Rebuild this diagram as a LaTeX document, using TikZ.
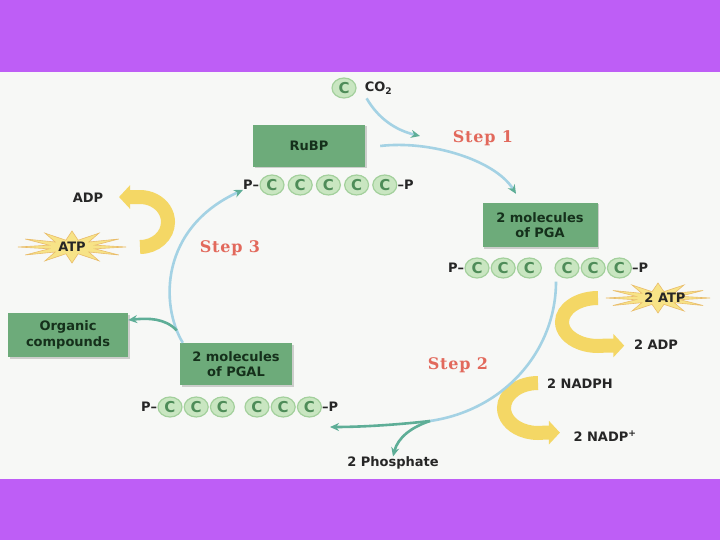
\documentclass[tikz,border=0pt]{standalone}
\usepackage{xcolor}
\usepackage{fontspec}
\setsansfont{DejaVu Sans}
\newfontfamily\stepfont{DejaVu Serif}[LetterSpace=5]
\usetikzlibrary{positioning,arrows.meta,shapes.geometric,shadows}

\definecolor{band}{HTML}{BE5EF6}
\definecolor{paper}{HTML}{F7F8F6}
\definecolor{boxgreen}{HTML}{6DAB7A}
\definecolor{boxtext}{HTML}{15301B}
\definecolor{ringgreen}{HTML}{A3D09C}
\definecolor{ringfill}{HTML}{C9E6C1}
\definecolor{cgreen}{HTML}{4E8C58}
\definecolor{cycleblue}{HTML}{A4D2E4}
\definecolor{cycleteal}{HTML}{5EAE97}
\definecolor{stepred}{HTML}{E2695C}
\definecolor{energy}{HTML}{F4D765}
\definecolor{burstfill}{HTML}{F7E387}
\definecolor{burstline}{HTML}{E9BC6A}

\begin{document}
\begin{tikzpicture}[
  x=1pt, y=-1pt,
  box/.style={rectangle, fill=boxgreen, text=boxtext, align=center, inner sep=2pt,
    font=\sffamily\bfseries\fontsize{13}{15.5}\selectfont,
    drop shadow={shadow xshift=1.5pt, shadow yshift=-1.5pt, opacity=.35}},
  cc/.style={ellipse, minimum width=24pt, minimum height=20pt, inner sep=0pt,
    fill=ringfill, draw=ringgreen, line width=1.2pt, text=cgreen,
    font=\sffamily\bfseries\fontsize{15}{15}\selectfont},
  lbl/.style={inner sep=0pt, text=black!85, font=\sffamily\bfseries\fontsize{13}{15}\selectfont},
  steplbl/.style={text=stepred, font=\stepfont\bfseries\fontsize{16}{18}\selectfont},
  cyc/.style={draw=cycleblue, line width=2.6pt, -{Stealth[length=9pt, width=8pt, color=cycleteal]}},
  cycg/.style={cyc, draw=cycleteal},
  nrg/.style={draw=energy, line width=14pt, -{Triangle[length=11pt, width=23pt]}},
  burst/.style={fill=burstfill, draw=burstline, line width=0.6pt}]

\fill[paper] (0,0) rectangle (720,540);
\fill[band] (0,0) rectangle (720,72);
\fill[band] (0,479) rectangle (720,540);
\useasboundingbox (0,0) rectangle (720,540);

\coordinate (atpc) at (72,247);
\coordinate (atp2c) at (658,298);
\filldraw[burst, shift={(atpc)}] plot[domain=0:23, samples=24]
  ({(0.72+0.28*cos(\x*180))*54*cos(\x*15)}, {(0.72+0.28*cos(\x*180))*16*sin(\x*15)}) -- cycle;
\filldraw[burst, shift={(atp2c)}] plot[domain=0:23, samples=24]
  ({(0.72+0.28*cos(\x*180))*52*cos(\x*15)}, {(0.72+0.28*cos(\x*180))*15*sin(\x*15)}) -- cycle;

\node[cc] (co2c) at (344,88) {C};
\node[lbl, right=8pt of co2c] (co2) {CO\textsubscript{2}};

\node[box, minimum width=112pt, minimum height=42pt] (rubp) at (309,146) {RuBP};
\node[cc] (ru1) at (272,185) {C};
\node[cc, right=3pt of ru1] (ru2) {C};
\node[cc, right=3pt of ru2] (ru3) {C};
\node[cc, right=3pt of ru3] (ru4) {C};
\node[cc, right=3pt of ru4] (ru5) {C};
\node[lbl, left=0pt of ru1] (rup1) {P–};
\node[lbl, right=0pt of ru5] (rup2) {–P};

\node[box, minimum width=115pt, minimum height=44pt] (pga) at (540,225) {2 molecules\\of PGA};
\node[cc] (pg1) at (477,268) {C};
\node[cc, right=1pt of pg1] (pg2) {C};
\node[cc, right=1pt of pg2] (pg3) {C};
\node[cc] (pg4) at (567,268) {C};
\node[cc, right=1pt of pg4] (pg5) {C};
\node[cc, right=1pt of pg5] (pg6) {C};
\node[lbl, left=0pt of pg1] (pgp1) {P–};
\node[lbl, right=0pt of pg6] (pgp2) {–P};

\node[box, minimum width=112pt, minimum height=42pt] (pgal) at (236,364) {2 molecules\\of PGAL};
\node[cc] (pl1) at (170,407) {C};
\node[cc, right=1pt of pl1] (pl2) {C};
\node[cc, right=1pt of pl2] (pl3) {C};
\node[cc] (pl4) at (257,407) {C};
\node[cc, right=1pt of pl4] (pl5) {C};
\node[cc, right=1pt of pl5] (pl6) {C};
\node[lbl, left=0pt of pl1] (plp1) {P–};
\node[lbl, right=0pt of pl6] (plp2) {–P};

\node[box, minimum width=120pt, minimum height=44pt] (organic) at (68,335) {Organic\\compounds};

\node[lbl] (adp) at (88,198) {ADP};
\node[lbl] (atp) at (atpc) {ATP};
\node[lbl] (atp2) at (665,298) {2 ATP};
\node[lbl] (adp2) at (656,345) {2 ADP};
\node[lbl] (nadph) at (580,384) {2 NADPH};
\node[lbl] (nadp) at (605,436) {2 NADP\textsuperscript{+}};
\node[lbl] (phos) at (393,463) {2 Phosphate};

\node[steplbl] (s1) at (483,138) {Step 1};
\node[steplbl] (s2) at (458,365) {Step 2};
\node[steplbl] (s3) at (230,248) {Step 3};

\draw[nrg] (140,247) arc[start angle=90, end angle=-92, x radius=28, y radius=25] -- ++(-20,0);
\draw[nrg] (598,298) arc[start angle=270, end angle=80, x radius=36, y radius=24] -- ++(20,0);
\draw[nrg] (538,383) arc[start angle=270, end angle=80, x radius=34, y radius=25] -- ++(16,0);

\coordinate (co2in) at (420,136);
\coordinate (ph) at (430,421);
\coordinate (pglin) at (330,427);
\draw[cyc] ([xshift=2pt,yshift=-4pt]co2.south west) .. controls (378,118) and (395,130) .. (co2in);
\draw[cyc] ([xshift=15pt]rubp.east) .. controls (430,140) and (495,160) .. ([xshift=-24pt,yshift=9pt]pga.north);
\draw[draw=cycleblue, line width=2.6pt] ([xshift=-11pt,yshift=-3pt]pg4.south) .. controls (556,350) and (505,410) .. (ph);
\draw[cycg] (ph) .. controls (395,425) and (360,427) .. (pglin);
\draw[cycg] (ph) .. controls (412,427) and (398,437) .. (phos.north);
\draw[cyc] ([xshift=3pt]pgal.north west) .. controls (160,305) and (160,228) .. coordinate[pos=0.1] (orgfork) (rup1.south west);
\draw[cycg] (orgfork) .. controls (165,318) and (148,318) .. ([yshift=15pt]organic.east);
\end{tikzpicture}
\end{document}
